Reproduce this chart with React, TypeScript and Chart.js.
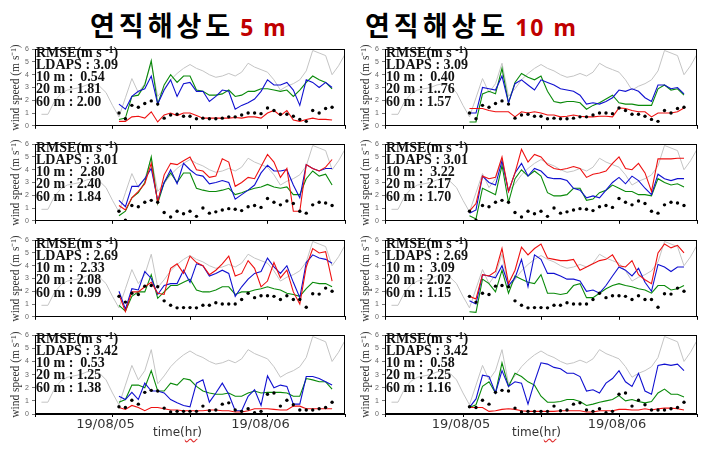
import React, { useEffect, useRef } from 'react';
import { Chart, registerables } from 'chart.js';

Chart.register(...registerables);

// ---------- data ----------
const ldapsHours = [1,2,3,4,5,6,7,8,9,10,11,12,13,14,15,16,17,18,19,20,21,22,23,24,25,26,27,28,29,30,31,32,33,34,35,36,37,38,39,40,41,42,43,44,45,46,47,48];
const ldapsSpeed = [0.9,0.9,1.9,2.5,2.8,2.9,3.0,3.2,3.3,3.1,2.6,1.6,0.7,2.2,3.7,2.6,3.3,4.9,2.3,2.9,3.6,4.1,4.5,4.8,4.5,4.3,4.0,3.8,3.9,4.1,3.9,4.2,4.9,4.6,4.4,4.2,3.6,2.8,3.1,3.3,3.6,4.3,5.9,5.7,5.5,4.0,4.7,5.6];

const modelHours = [13,14,15,16,17,18,19,20,21,22,23,24,25,26,27,28,29,30,31,32,33,34,35,36,37,38,39,40,41,42,43,44,45,46];

const obsRow1 = [1.0,0.55,1.6,1.45,1.75,1.95,1.7,0.6,0.85,0.9,0.75,0.75,0.55,0.6,0.55,0.55,0.6,0.7,0.7,0.85,1.0,1.0,0.95,1.4,1.2,0.9,0.9,0.75,0.5,0.35,1.2,1.0,1.35,1.45];
const obsRow2 = [0.75,0.05,1.2,1.1,1.45,1.6,1.45,0.65,0.3,0.75,0.55,0.75,0.35,1.0,0.6,0.7,0.85,0.95,0.9,0.8,1.1,1.2,1.05,1.75,1.45,1.25,1.55,1.35,0.75,0.6,1.25,1.45,1.4,1.2];
const obsRow3 = [1.6,1.15,1.85,1.75,2.4,2.45,2.35,1.25,0.9,0.7,0.72,0.72,0.7,0.9,0.9,1.1,1.0,1.0,1.0,1.35,1.85,1.5,1.65,1.65,1.6,1.35,1.65,1.35,1.35,0.75,1.8,1.78,2.25,2.0];
const obsRow4 = [0.55,0.5,1.05,0.75,1.65,1.8,1.75,0.45,0.15,0.2,0.2,0.2,0.2,0.6,0.25,0.3,0.75,0.85,0.3,0.2,0.4,0.1,0.2,1.5,1.6,0.6,1.05,0.7,0.3,0.3,0.3,0.4,0.5,0.9];

// vertical resolution 5 m
const r5row1m10 = [0.35,0.35,0.7,0.75,0.6,1.1,0.3,0.85,1.0,0.8,1.0,1.0,0.8,0.6,0.6,0.6,0.6,0.6,0.65,0.6,0.7,0.7,0.6,1.0,1.2,0.8,1.2,0.45,0.35,0.5,0.6,0.5,0.5,0.45];
const r5row1m20 = [1.7,1.3,2.3,2.7,2.9,3.9,1.7,2.8,3.6,2.3,3.3,3.4,2.7,2.7,1.9,2.3,2.8,2.7,1.3,1.6,1.8,2.1,2.7,3.6,3.2,3.2,3.4,2.8,1.6,3.6,3.4,3.0,3.4,3.0];
const r5row1m60 = [0.5,0.6,2.3,2.4,3.2,5.1,1.7,3.2,4.0,3.4,3.9,3.9,2.8,2.7,2.4,2.4,2.5,2.8,2.3,2.4,2.7,2.7,2.9,2.9,2.8,2.7,2.8,2.3,2.8,3.4,3.9,3.6,3.4,2.9];

const r5row2m10 = [1.2,0.85,1.8,2.3,2.9,4.5,1.45,3.6,4.5,4.4,4.7,5.0,4.0,3.9,3.4,3.5,4.85,4.6,2.7,3.0,3.4,3.3,4.25,5.2,4.6,3.4,4.1,0.75,0.75,4.4,4.1,3.9,4.2,4.8];
const r5row2m20 = [1.6,1.1,2.7,2.7,3.3,4.1,1.6,3.0,4.0,2.9,4.5,4.0,3.6,3.5,2.9,3.0,3.15,3.0,1.7,2.05,2.4,2.8,3.75,4.35,3.9,3.9,4.0,2.8,1.8,4.4,4.1,3.9,4.1,4.1];
const r5row2m60 = [0.4,0.75,1.8,2.2,3.0,5.0,1.35,3.0,3.75,3.0,3.75,3.75,2.55,2.4,2.3,2.3,2.4,2.55,2.05,2.2,2.4,2.55,2.65,2.85,2.65,2.55,2.65,2.05,2.05,3.3,3.9,3.5,3.65,2.8];

const r5row3m10 = [1.75,0.4,1.95,1.95,2.35,2.7,1.85,1.75,3.8,4.15,3.4,4.75,4.25,4.0,3.3,3.65,4.15,4.75,3.2,3.4,4.4,3.8,2.35,2.8,4.25,3.05,3.65,1.95,1.0,3.9,5.35,5.0,5.1,2.8];
const r5row3m20 = [2.0,0.6,2.2,2.1,3.55,3.0,1.75,2.45,2.6,2.6,3.65,2.7,4.15,4.0,3.2,3.4,3.65,3.4,1.6,2.35,2.95,3.4,3.55,4.6,3.9,3.4,4.0,2.7,1.5,4.25,4.85,4.6,4.5,4.2];
const r5row3m60 = [0.9,0.45,1.6,1.95,1.95,3.3,1.45,1.95,2.45,2.45,2.7,2.95,2.1,1.95,1.95,2.1,2.35,2.35,1.75,1.95,1.95,2.1,2.2,2.35,2.2,2.1,1.85,1.75,1.6,2.2,2.7,2.6,2.6,2.35];

const r5row4m10 = [0.5,0.35,0.65,0.5,0.25,0.5,0.5,0.4,0.3,0.3,0.25,0.25,0.25,0.25,0.3,0.3,0.25,0.25,0.15,0.15,0.25,0.4,0.4,0.4,0.35,0.3,0.3,0.6,0.6,0.4,0.4,0.4,0.4,0.4];
const r5row4m20 = [1.35,1.1,1.65,1.1,2.35,1.75,1.75,1.6,1.1,0.85,0.65,0.55,2.35,2.6,0.9,1.6,2.35,1.5,0.25,0.25,1.35,1.85,0.65,2.9,2.0,2.2,2.1,0.75,0.75,2.85,2.85,2.7,2.45,2.2];
const r5row4m60 = [0.9,1.1,2.2,2.2,2.0,3.3,1.75,1.75,2.35,2.2,2.7,2.6,2.1,1.75,1.6,1.5,1.5,1.6,1.35,1.35,1.6,1.75,1.6,1.65,1.65,1.65,1.6,1.35,1.35,2.7,2.6,2.45,2.45,1.9];

// vertical resolution 10 m
const r10row1m10 = [1.35,1.35,1.35,1.2,1.1,1.1,1.1,0.7,1.1,1.0,1.1,1.0,0.85,0.85,0.7,0.75,0.85,0.75,0.7,0.7,0.75,0.75,0.7,1.4,1.35,1.2,1.1,1.1,0.7,1.0,1.0,1.0,1.1,1.4];
const r10row1m20 = [1.0,1.0,3.0,2.9,2.8,3.9,1.8,3.3,3.6,3.2,2.8,3.6,3.4,3.2,2.9,2.8,2.7,2.4,1.7,1.8,1.7,1.9,2.2,2.8,2.7,2.9,2.7,2.2,1.9,3.2,3.2,2.9,3.0,2.5];
const r10row1m60 = [0.3,0.3,2.5,2.7,2.5,4.5,1.8,3.4,4.1,3.8,3.6,3.9,2.7,1.9,1.8,1.9,1.9,1.8,1.3,1.6,1.8,2.1,2.4,1.8,1.7,1.7,1.6,1.6,1.6,2.9,3.2,2.8,2.9,2.4];

const r10row2m10 = [0.75,1.35,3.5,3.3,3.4,5.0,2.3,3.75,5.6,4.6,5.2,5.0,4.4,4.1,4.0,4.1,4.25,4.1,3.4,3.65,3.75,3.9,4.5,5.0,4.1,4.0,4.5,3.75,2.3,4.85,4.85,4.85,4.9,4.9];
const r10row2m20 = [0.6,0.85,3.5,3.0,2.8,4.7,2.3,3.75,4.5,3.5,4.1,3.9,3.4,3.3,3.3,3.15,2.55,2.4,1.8,1.95,1.8,2.4,3.0,3.4,2.9,3.5,3.15,2.55,2.05,3.65,3.3,3.15,3.3,3.3];
const r10row2m60 = [0.4,0.15,2.55,2.3,2.05,4.35,1.45,3.3,4.0,3.5,3.9,3.5,2.2,1.95,1.95,2.05,2.55,2.55,1.6,1.7,2.2,2.4,2.8,2.55,2.3,2.3,2.05,2.05,1.95,3.3,3.0,2.8,2.9,2.65];

const r10row3m10 = [1.6,1.4,3.3,3.2,3.55,5.35,2.6,3.65,5.45,4.85,5.35,5.7,4.6,4.5,4.4,4.4,4.5,3.65,3.9,4.15,4.4,4.5,4.85,4.0,3.9,4.4,3.3,2.9,2.6,5.0,5.7,5.4,5.6,5.0];
const r10row3m20 = [1.25,1.0,3.3,3.2,3.05,4.0,2.45,3.05,4.5,2.35,4.85,4.5,3.4,3.4,3.2,2.95,2.95,2.8,2.0,2.1,1.85,2.45,3.2,3.9,3.65,3.2,3.8,2.7,2.0,4.1,3.9,3.55,3.9,3.9];
const r10row3m60 = [0.4,0.35,2.95,2.6,1.95,3.65,1.85,3.2,2.95,2.7,2.6,3.3,1.85,1.85,1.75,1.85,2.45,2.6,1.5,1.5,1.85,2.2,2.45,2.6,2.45,2.35,2.2,2.1,1.85,2.45,2.45,2.1,2.2,2.45];

const r10row4m10 = [0.5,0.5,0.5,0.2,0.25,0.35,0.4,0.35,0.25,0.2,0.2,0.2,0.2,0.2,0.25,0.25,0.25,0.25,0.15,0.15,0.25,0.25,0.25,0.35,0.35,0.3,0.3,0.4,0.3,0.4,0.45,0.45,0.4,0.3];
const r10row4m20 = [0.5,1.15,2.95,2.85,1.6,3.3,2.1,2.45,2.35,0.75,2.45,3.9,3.8,3.55,3.45,3.1,3.1,2.85,1.75,1.85,1.6,2.35,2.7,3.3,2.45,2.1,3.1,1.75,1.5,3.7,3.8,3.7,3.8,3.3];
const r10row4m60 = [0.5,0.7,2.1,2.45,1.6,3.9,2.1,3.1,2.85,2.45,2.2,1.35,0.9,0.9,0.95,1.1,1.1,0.95,0.65,0.75,0.9,1.0,1.1,1.4,1.0,1.1,0.95,0.85,0.95,1.6,1.9,1.5,1.5,1.3];

// RMSE annotations: [LDAPS, 10 m, 20 m, 60 m]
const rmse5Row1 = ['3.09', '0.54', '1.81', '2.00'];
const rmse5Row2 = ['3.01', '2.80', '2.40', '1.84'];
const rmse5Row3 = ['2.69', '2.33', '2.08', '0.99'];
const rmse5Row4 = ['3.42', '0.53', '1.25', '1.38'];
const rmse10Row1 = ['3.09', '0.40', '1..76', '1.57'];
const rmse10Row2 = ['3.01', '3.22', '2.17', '1.70'];
const rmse10Row3 = ['2.69', '3.09', '2.02', '1.15'];
const rmse10Row4 = ['3.42', '0.58', '2.25', '1.16'];

const dateTickHours = [12, 36];
const dateTickLabels = ['19/08/05', '19/08/06'];
const columnTitles = ['5 m', '10 m'];
const titleWord = '연직해상도';
const yTitle = 'wind speed (m s⁻¹)';

// ---------- layout ----------
const rowTops = [46, 141, 237, 332];
const plotH = 82;
const cols = [
  { canvasLeft: 0, width: 350, padRight: 5, plotLeft: 35, titleLeft: 90, labelOffset: -7, timeLeft: 153 },
  { canvasLeft: 350, width: 357, padRight: 10, plotLeft: 385, titleLeft: 365, labelOffset: -2, timeLeft: 512 },
];

const panels = [
  { col: 0, row: 0, obs: obsRow1, m10: r5row1m10, m20: r5row1m20, m60: r5row1m60, rmse: rmse5Row1 },
  { col: 0, row: 1, obs: obsRow2, m10: r5row2m10, m20: r5row2m20, m60: r5row2m60, rmse: rmse5Row2 },
  { col: 0, row: 2, obs: obsRow3, m10: r5row3m10, m20: r5row3m20, m60: r5row3m60, rmse: rmse5Row3 },
  { col: 0, row: 3, obs: obsRow4, m10: r5row4m10, m20: r5row4m20, m60: r5row4m60, rmse: rmse5Row4 },
  { col: 1, row: 0, obs: obsRow1, m10: r10row1m10, m20: r10row1m20, m60: r10row1m60, rmse: rmse10Row1 },
  { col: 1, row: 1, obs: obsRow2, m10: r10row2m10, m20: r10row2m20, m60: r10row2m60, rmse: rmse10Row2 },
  { col: 1, row: 2, obs: obsRow3, m10: r10row3m10, m20: r10row3m20, m60: r10row3m60, rmse: rmse10Row3 },
  { col: 1, row: 3, obs: obsRow4, m10: r10row4m10, m20: r10row4m20, m60: r10row4m60, rmse: rmse10Row4 },
];

const framePlugin = {
  id: 'frame',
  afterDraw(chart: any) {
    const { ctx, chartArea } = chart;
    const l = Math.round(chartArea.left) + 0.5;
    const t = Math.round(chartArea.top) + 0.5;
    const r = Math.round(chartArea.right) - 0.5;
    const b = Math.round(chartArea.bottom) - 0.5;
    ctx.save();
    ctx.strokeStyle = '#000';
    ctx.lineWidth = 1;
    ctx.strokeRect(l, t, r - l, b - t);
    ctx.restore();
  },
};

const pts = (xs: number[], ys: number[]) => xs.map((x, i) => ({ x, y: ys[i] }));

function Panel({ p }: { p: (typeof panels)[number] }) {
  const ref = useRef<HTMLCanvasElement>(null);
  const col = cols[p.col];
  const isBottom = p.row === 3;
  const xh = isBottom ? 20 : 5;
  const padTop = 4;
  const canvasTop = rowTops[p.row] - padTop;
  const canvasH = padTop + plotH + xh;

  useEffect(() => {
    const lineDs = (label: string, data: number[], color: string, order: number, width: number) => ({
      label,
      data: pts(modelHours, data),
      borderColor: color,
      backgroundColor: color,
      borderWidth: width,
      pointRadius: 0,
      tension: 0,
      fill: false,
      order,
    });
    const chart = new Chart(ref.current as HTMLCanvasElement, {
      type: 'line',
      data: {
        datasets: [
          {
            label: 'LDAPS',
            data: pts(ldapsHours, ldapsSpeed),
            borderColor: '#c4c4c4',
            backgroundColor: '#c4c4c4',
            borderWidth: 1,
            pointRadius: 0,
            tension: 0,
            order: 6,
          },
          lineDs('60 m', p.m60, '#0a8a0a', 5, 1.1),
          lineDs('20 m', p.m20, '#1010d0', 4, 1.1),
          lineDs('10 m', p.m10, '#ee1010', 3, 1.1),
          {
            label: 'OBS',
            data: pts(modelHours, p.obs),
            showLine: false,
            pointRadius: 1.7,
            pointBorderWidth: 0,
            pointBackgroundColor: '#000',
            borderColor: '#000',
            backgroundColor: '#000',
            order: 1,
          },
        ] as any,
      },
      options: {
        responsive: false,
        animation: false,
        events: [],
        layout: { padding: { top: padTop, right: col.padRight, left: 0, bottom: 0 } },
        plugins: { legend: { display: false }, tooltip: { enabled: false } },
        scales: {
          x: {
            type: 'linear',
            min: 0,
            max: 48,
            afterFit: (s: any) => {
              s.height = xh;
            },
            ticks: {
              display: isBottom,
              stepSize: 12,
              autoSkip: false,
              maxRotation: 0,
              labelOffset: col.labelOffset,
              padding: 0,
              color: '#333',
              font: { family: 'DejaVu Sans', size: 13 },
              callback: (v: any) => {
                const i = dateTickHours.indexOf(Number(v));
                return i >= 0 ? dateTickLabels[i] : '';
              },
            },
            grid: { drawOnChartArea: false, drawTicks: true, tickLength: 3, color: '#000' },
            border: { display: true, color: '#000' },
          },
          y: {
            type: 'linear',
            min: 0,
            max: 6,
            afterFit: (s: any) => {
              s.width = 35;
            },
            ticks: {
              stepSize: 1,
              padding: 3,
              color: '#666',
              font: { family: 'Liberation Sans', size: 7 },
            },
            grid: { drawOnChartArea: false, drawTicks: true, tickLength: 3, color: '#777' },
            border: { display: true, color: '#000' },
            title: {
              display: true,
              text: yTitle,
              color: '#333',
              font: { family: 'Liberation Serif', size: 11.5 },
              padding: { top: 9, bottom: 0 },
            },
          },
        },
      } as any,
      plugins: [framePlugin],
    });
    return () => chart.destroy();
  }, []);

  const textLines = [
    `LDAPS : ${p.rmse[0]}`,
    `10 m :  ${p.rmse[1]}`,
    `20 m : ${p.rmse[2]}`,
    `60 m : ${p.rmse[3]}`,
  ];

  return (
    <>
      <canvas
        ref={ref}
        width={col.width}
        height={canvasH}
        style={{ position: 'absolute', left: col.canvasLeft, top: canvasTop, width: col.width, height: canvasH }}
      />
      <div
        style={{
          position: 'absolute',
          left: col.plotLeft + 1,
          top: rowTops[p.row] + 0.5,
          fontFamily: '"Liberation Serif", "Times New Roman", serif',
          fontWeight: 'bold',
          fontSize: 14,
          lineHeight: '12.3px',
          color: '#111',
          whiteSpace: 'pre',
        }}
      >
        <div>
          {'RMSE(m s '}
          <span style={{ fontSize: 10, display: 'inline-block', transform: 'translateY(-4px)', lineHeight: '10px' }}>-1</span>)
        </div>
        {textLines.map((t, i) => (
          <div key={i}>{t}</div>
        ))}
      </div>
    </>
  );
}

export default function App() {
  return (
    <div
      style={{
        position: 'absolute',
        left: 0,
        top: 0,
        width: 707,
        height: 451,
        background: '#fff',
        overflow: 'hidden',
      }}
    >
      {cols.map((c, i) => (
        <div
          key={'t' + i}
          style={{
            position: 'absolute',
            left: c.titleLeft,
            top: 11,
            whiteSpace: 'nowrap',
            lineHeight: '28px',
          }}
        >
          <span
            style={{
              fontFamily: '"Noto Sans CJK KR", sans-serif',
              fontWeight: 'bold',
              fontSize: 27,
              letterSpacing: 4,
              color: '#000',
            }}
          >
            {titleWord}
          </span>
          <span
            style={{
              fontFamily: '"Noto Sans", sans-serif',
              fontWeight: 'bold',
              fontSize: 23,
              letterSpacing: 2,
              color: '#c00000',
              marginLeft: 6,
            }}
          >
            {columnTitles[i]}
          </span>
        </div>
      ))}
      {panels.map((p, i) => (
        <Panel key={i} p={p} />
      ))}
      {cols.map((c, i) => (
        <div
          key={'x' + i}
          style={{
            position: 'absolute',
            left: c.timeLeft,
            top: 425,
            fontFamily: '"DejaVu Sans", sans-serif',
            fontSize: 12,
            color: '#333',
            whiteSpace: 'nowrap',
          }}
        >
          time(
          <span style={{ textDecoration: 'underline wavy #e03030', textUnderlineOffset: 2 }}>hr</span>)
        </div>
      ))}
    </div>
  );
}
